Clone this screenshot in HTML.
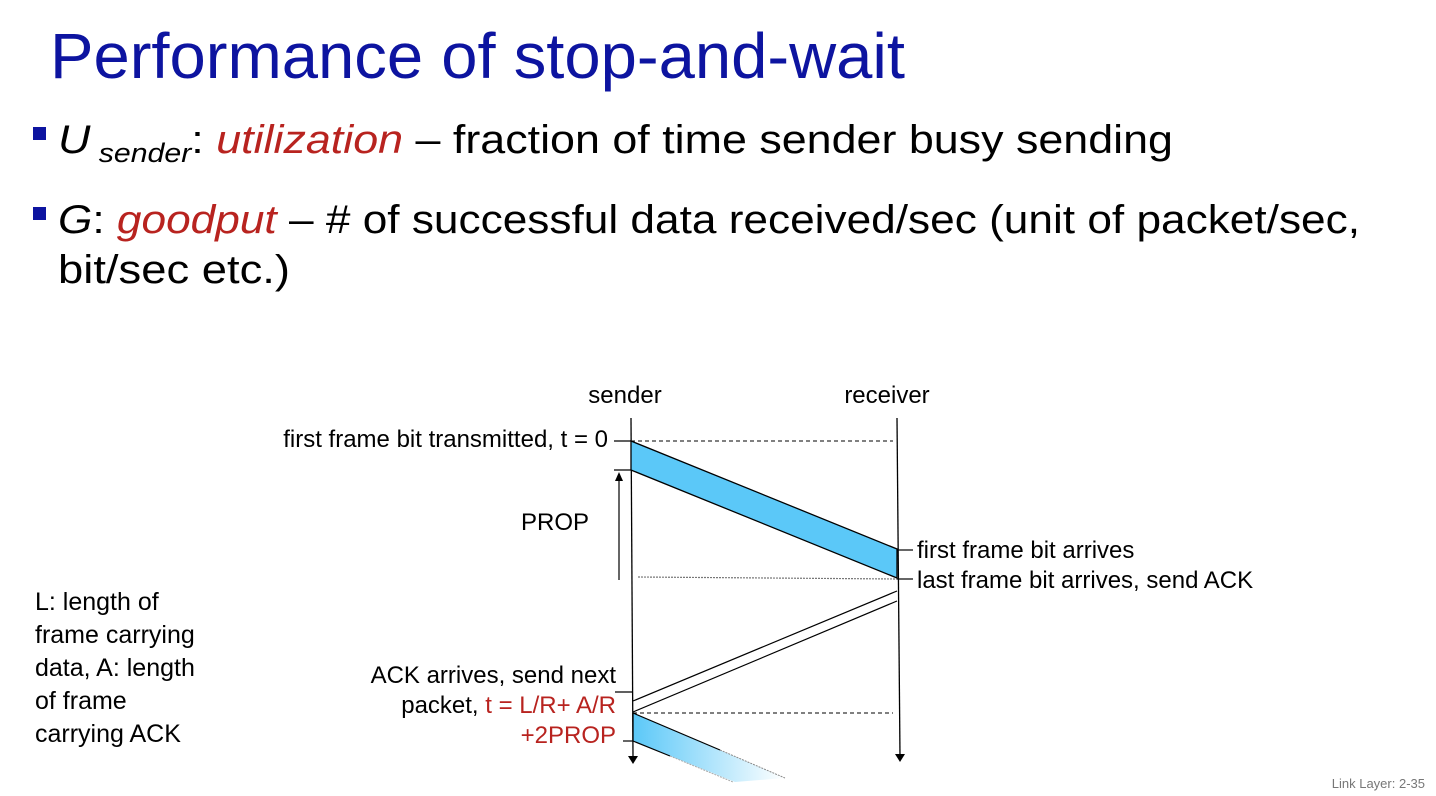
<!DOCTYPE html>
<html><head><meta charset="utf-8"><style>
html,body{margin:0;padding:0;background:#fff;width:1436px;height:796px;overflow:hidden}
svg{display:block}
</style></head><body>
<svg width="1436" height="796" viewBox="0 0 1436 796" xmlns="http://www.w3.org/2000/svg">
<defs>
<linearGradient id="fade" x1="633" y1="0" x2="785" y2="0" gradientUnits="userSpaceOnUse">
<stop offset="0" stop-color="#5bc8f8"/><stop offset="1" stop-color="#5bc8f8" stop-opacity="0"/>
</linearGradient>
</defs>
<g font-family="Liberation Sans, sans-serif">
<text x="50" y="78" font-size="64" fill="#0d14a0" textLength="855" lengthAdjust="spacingAndGlyphs">Performance of stop-and-wait</text>
<rect x="33" y="127" width="13" height="13" fill="#0d14a0"/>
<text x="58" y="153" font-size="40" fill="#000" textLength="1115" lengthAdjust="spacingAndGlyphs"><tspan font-style="italic">U</tspan><tspan font-style="italic" font-size="27" dy="9"> sender</tspan><tspan dy="-9">: </tspan><tspan font-style="italic" fill="#b8231f">utilization</tspan><tspan> – fraction of time sender busy sending</tspan></text>
<rect x="33" y="207" width="13" height="13" fill="#0d14a0"/>
<text x="58" y="233" font-size="40" fill="#000" textLength="1302" lengthAdjust="spacingAndGlyphs"><tspan font-style="italic">G</tspan>: <tspan font-style="italic" fill="#b8231f">goodput</tspan> – # of successful data received/sec (unit of packet/sec,</text>
<text x="58" y="283" font-size="40" fill="#000" textLength="232" lengthAdjust="spacingAndGlyphs">bit/sec etc.)</text>

<g font-size="24" fill="#000">
<text x="625" y="403" text-anchor="middle">sender</text>
<text x="887" y="403" text-anchor="middle">receiver</text>
<text x="608" y="447" text-anchor="end">first frame bit transmitted, t = 0</text>
<text x="555" y="530" text-anchor="middle">PROP</text>
<text x="917" y="558">first frame bit arrives</text>
<text x="917" y="588">last frame bit arrives, send ACK</text>
<text x="616" y="683" text-anchor="end">ACK arrives, send next</text>
<text x="616" y="713" text-anchor="end">packet, <tspan fill="#b8231f">t = L/R+ A/R</tspan></text>
<text x="616" y="743" text-anchor="end" fill="#b8231f">+2PROP</text>
</g>
<g font-size="25" fill="#000">
<text x="35" y="610">L: length of</text>
<text x="35" y="643">frame carrying</text>
<text x="35" y="676">data, A: length</text>
<text x="35" y="709">of frame</text>
<text x="35" y="742">carrying ACK</text>
</g>
<text x="1425" y="788" font-size="13" fill="#777" text-anchor="end">Link Layer: 2-35</text>
</g>

<g stroke="#000" stroke-width="1.3" fill="none">
<line x1="631" y1="418" x2="633" y2="757"/>
<line x1="897" y1="418" x2="900" y2="757"/>
</g>
<polygon points="628,756 638,756 633,764" fill="#000"/>
<polygon points="895,754 905,754 900,762" fill="#000"/>
<polygon points="631,441 897,549 897,578 631,470" fill="#5bc8f8" stroke="#000" stroke-width="1.3"/>
<g stroke="#000" stroke-width="1.2" fill="none">
<line x1="614" y1="441" x2="631" y2="441"/>
<line x1="614" y1="470" x2="631" y2="470"/>
<line x1="897" y1="550" x2="913" y2="550"/>
<line x1="897" y1="579" x2="913" y2="579"/>
<line x1="615" y1="692" x2="632" y2="692"/>
<line x1="623" y1="741" x2="633" y2="741"/>
<line x1="619" y1="580" x2="619" y2="478"/>
<line x1="897" y1="591" x2="633" y2="701"/>
<line x1="897" y1="601" x2="633" y2="712"/>
</g>
<polygon points="615,481 623,481 619,472" fill="#000"/>
<line x1="631" y1="441" x2="893" y2="441" stroke="#000" stroke-width="1" stroke-dasharray="4,3"/>
<line x1="638" y1="577" x2="897" y2="579" stroke="#777" stroke-width="1.2" stroke-dasharray="2,1"/>
<line x1="633" y1="713" x2="893" y2="713" stroke="#000" stroke-width="1" stroke-dasharray="4,3"/>
<polygon points="633,713 785,778 735,782 633,741" fill="url(#fade)"/>
<line x1="633" y1="713" x2="720" y2="750" stroke="#000" stroke-width="1.2"/>
<line x1="720" y1="750" x2="785" y2="778" stroke="#888" stroke-width="1" stroke-dasharray="2,1"/>
<line x1="633" y1="741" x2="670" y2="756" stroke="#000" stroke-width="1.2"/>
<line x1="670" y1="756" x2="733" y2="782" stroke="#aaa" stroke-width="1" stroke-dasharray="2,1"/>
<line x1="633" y1="713" x2="633" y2="741" stroke="#000" stroke-width="1.3"/>
</svg>
</body></html>
